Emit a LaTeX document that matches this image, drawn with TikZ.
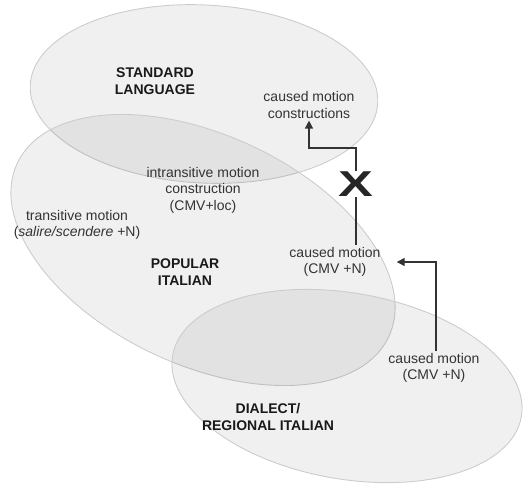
\documentclass[tikz,border=0pt]{standalone}
\usepackage{fontspec}
\setmainfont{Liberation Sans}
\usetikzlibrary{shapes.geometric,arrows.meta}

\begin{document}
\begin{tikzpicture}[x=1pt, y=-1pt]
        \tikzset{
            region/.style={
                ellipse,
                draw=black!20,
                line width=0.9pt,
                fill=black,
                fill opacity=0.06,
                inner sep=0pt
            },
            varlabel/.style={
                font=\fontsize{14}{16.5}\selectfont\bfseries,
                align=center,
                text=black!90
            },
            conslabel/.style={
                font=\fontsize{14}{16.5}\selectfont,
                align=center,
                text=black!80,
                inner sep=2pt
            },
            blocked/.style={
                font=\fontsize{36}{36}\selectfont\bfseries,
                text=black!85,
                inner sep=0pt
            },
            link/.style={line width=1.4pt, draw=black!80},
            arrow/.style={-{Triangle[length=8pt, width=8pt]}, line width=1.4pt, draw=black!80}
        }
        \useasboundingbox (0, 0) rectangle (523, 485);

        % varieties
        \node[region, minimum width=348pt, minimum height=178pt, rotate=-3]
            (standard) at (204, 94) {};
        \node[region, minimum width=410pt, minimum height=230pt, rotate=-25]
            (popular) at (203, 250) {};
        \node[region, minimum width=354pt, minimum height=186pt, rotate=-10]
            (dialect) at (347, 386) {};

        \node[varlabel] (stdname) at (155, 81) {STANDARD\\LANGUAGE};
        \node[varlabel] (popname) at (185, 272) {POPULAR\\ITALIAN};
        \node[varlabel] (dianame) at (268, 417) {DIALECT/\\REGIONAL ITALIAN};

        % constructions
        \node[conslabel] (stdcaused) at (309, 105) {caused motion\\constructions};
        \node[conslabel] (intrans) at (203, 190) {intransitive motion\\construction\\(CMV+loc)};
        \node[conslabel] (trans) at (77, 225) {transitive motion\\(\textit{salire/scendere} +N)};
        \node[conslabel] (popcaused) at (335, 262) {caused motion\\(CMV +N)};
        \node[conslabel] (diacaused) at (434, 368) {caused motion\\(CMV +N)};

        \node[blocked] (cross) at (356, 184) {\scalebox{1.45}[1]{X}};
        \coordinate (turn) at (356, 148);

        \draw[link] (popcaused.north -| cross) -- (cross.south);
        \draw[arrow] (cross.north) -- (turn) -| (stdcaused.south);
        \draw[arrow] (diacaused.north -| 436, 0) |- ([xshift=14pt]popcaused.east);
    \end{tikzpicture}
\end{document}
